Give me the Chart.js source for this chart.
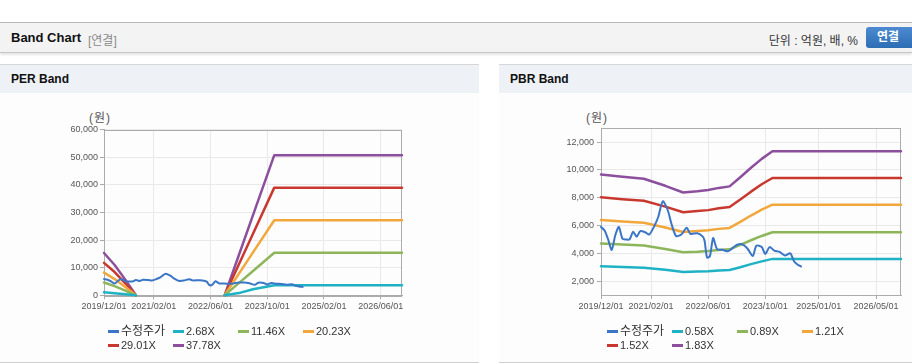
<!DOCTYPE html>
<html><head><meta charset="utf-8">
<script src="https://cdn.jsdelivr.net/npm/chart.js@4/dist/chart.umd.min.js"></script>
<style>
html,body{margin:0;padding:0;background:#fff;}
body{width:912px;height:364px;position:relative;overflow:hidden;font-family:"Liberation Sans",Arial,"Noto Sans CJK KR",sans-serif;}
.hdr{position:absolute;left:0;top:22px;width:912px;height:29px;background:#f3f3f3;border-top:1px solid #b9b9b9;border-bottom:1px solid #c6c6c6;box-shadow:0 2px 2px rgba(0,0,0,0.10);}
.hdr .t{position:absolute;left:11px;top:7px;font-size:13px;font-weight:bold;color:#111;}
.hdr .s{position:absolute;left:88px;top:8px;font-size:12px;color:#8a8a8a;}
.hdr .u{position:absolute;right:54px;top:8px;font-size:12px;color:#333;}
.hdr .btn{position:absolute;left:866px;top:4px;width:52px;height:21px;background:linear-gradient(#4c8bd1,#2d6db3);border-radius:3px;color:#fff;font-size:12px;font-weight:bold;line-height:21px;text-indent:11px;}
.panel{position:absolute;top:64px;height:297px;background:#fdfdfd;border-top:1px solid #d6d6d6;border-bottom:1px solid #d0d0d0;}
.ptitle{height:28px;background:#eef2f7;font-weight:bold;font-size:12px;padding-left:11px;line-height:29px;color:#111;}
.cw{position:absolute;}
.unit{position:absolute;font-size:12px;color:#555;transform:translateX(-50%);top:108px;letter-spacing:1px;}
.lg{position:absolute;font-size:11px;color:#333;white-space:nowrap;}
.lg span.d{position:absolute;left:0;top:50%;width:11px;height:3px;margin-top:-1px;}
.lg span.l{position:absolute;left:13px;top:-7px;line-height:14px;}
.lg span.kr{font-size:12px;}
</style>
</head><body>
<div class="hdr"><span class="t">Band Chart</span><span class="s">[연결]</span><span class="u">단위 : 억원, 배, %</span><span class="btn">연결</span></div>
<div class="panel" style="left:0;width:479px;"><div class="ptitle">PER Band</div></div>
<div class="panel" style="left:499px;width:413px;"><div class="ptitle">PBR Band</div></div>
<div class="unit" style="left:100px;">(원)</div>
<div class="unit" style="left:597px;">(원)</div>
<div class="cw" style="left:0;top:100px;"><canvas id="per" width="479" height="225"></canvas></div>
<div class="cw" style="left:499px;top:100px;"><canvas id="pbr" width="413" height="225"></canvas></div>
<div id="legends"></div>
<script>
// ---- data ----
const perTickLabels = ['2019/12/01','2021/02/01','2022/06/01','2023/10/01','2025/02/01','2026/06/01'];
const pbrTickLabels = ['2019/12/01','2021/02/01','2022/06/01','2023/10/01','2025/01/01','2026/05/01'];
const perYTicks = [0,10000,20000,30000,40000,50000,60000];
const pbrYTicks = [2000,4000,6000,8000,10000,12000];

const priceDates = ['2019/12/01','2020/01/01','2020/02/01','2020/03/01','2020/04/01','2020/05/01','2020/06/01','2020/07/01','2020/08/01','2020/09/01','2020/10/01','2020/11/01','2020/12/16','2021/01/16','2021/02/25','2021/04/01','2021/05/10','2021/06/22','2021/07/22','2021/09/01','2021/10/16','2021/12/01','2022/01/01','2022/03/01','2022/04/16','2022/05/01','2022/05/22','2022/06/16','2022/07/13','2022/08/16','2022/10/01','2022/11/16','2022/12/16','2023/02/01','2023/03/16','2023/05/01','2023/06/16','2023/07/16','2023/09/01','2023/10/01','2023/11/07','2023/12/16','2024/02/01','2024/03/16','2024/05/01','2024/06/01','2024/07/01','2024/08/01'];
const priceValues = [5900,5650,5000,4250,5300,5900,5050,5000,5000,5550,5200,5600,5500,5350,5900,6600,7750,7100,6150,5250,5350,5850,5400,5450,5200,4900,3700,3800,5100,4300,4250,4150,4300,4600,4650,4350,3800,4550,4450,3950,4450,4200,4100,3850,4000,3450,3200,3050];

const perNames = ['수정주가','2.68X','11.46X','20.23X','29.01X','37.78X'];
const perBandDates = ['2019/12/01','2020/03/01','2020/06/01','2020/09/01','2021/06/01','2022/10/01','2023/02/01','2023/06/01','2023/12/01','2026/12/01'];
const per268  = [1090, 780, 400, 0, null, 0,   800,  2200,  3650,  3650];
const per1146 = [4640, 3320, 1720, 0, null, 0,  4400,  8790, 15390, 15390];
const per2023 = [8190, 5870, 3030, 0, null, 0,  7770, 15520, 27170, 27170];
const per2901 = [11750, 8410, 4350, 0, null, 0, 11140, 22250, 38960, 38960];
const per3778 = [15300, 10960, 5670, 0, null, 0, 14500, 29000, 50700, 50700];

const pbrNames = ['수정주가','0.58X','0.89X','1.21X','1.52X','1.83X'];
const pbrBandDates = ['2019/12/01','2020/06/01','2020/12/01','2021/06/01','2021/11/01','2022/03/01','2022/06/01','2022/09/01','2022/12/01','2023/03/01','2023/06/01','2023/09/01','2023/12/01','2026/12/01'];
const pbr058 = [3070,3020,2970,2810,2660,2690,2710,2760,2800,3000,3220,3420,3600,3600];
const pbr089 = [4710,4630,4560,4310,4080,4120,4170,4240,4290,4610,4940,5250,5520,5520];
const pbr121 = [6400,6290,6200,5860,5540,5600,5660,5760,5830,6270,6720,7140,7500,7500];
const pbr152 = [8040,7900,7780,7360,6960,7040,7110,7240,7330,7870,8440,8970,9420,9420];
const pbr183 = [9680,9520,9370,8860,8380,8470,8560,8710,8820,9480,10160,10800,11350,11350];

const seriesColors = ['#3b76c6','#1fb2c5','#8db65b','#f2a73c','#c9382f','#8b4f9d'];

// ---- helpers ----
function months(s){const p=s.split('/').map(Number);return (p[0]-2019)*12+(p[1]-12)+((p[2]||1)-1)/30;}
function pts(dates, vals){return dates.map((d,i)=>({x:months(d),y:vals[i]}));}
const FONT = '"Liberation Sans", Arial, sans-serif';

const boxPlugin = {id:'box', beforeDatasetsDraw(chart){
  const {ctx, chartArea:a} = chart;
  ctx.save(); ctx.strokeStyle='#acacac'; ctx.lineWidth=1;
  ctx.strokeRect(Math.round(a.left)+0.5, Math.round(a.top)+0.5, Math.round(a.right-a.left)-1, Math.round(a.bottom-a.top));
  ctx.restore();
}};

function makeChart(id, cfg){
  const xTicks = cfg.xLabels.map(l=>months(l));
  const datasets = cfg.series.map((s,i)=>({
    label:cfg.names[i], data:s, borderColor:seriesColors[i], backgroundColor:seriesColors[i],
    borderWidth: i===0?2:2.5, pointRadius:0, tension: i===0?0.25:0, spanGaps:false, clip:false, fill:false,
    borderJoinStyle:'round', borderCapStyle:'round'
  }));
  return new Chart(document.getElementById(id), {
    type:'line',
    data:{datasets},
    options:{
      responsive:false, animation:false, devicePixelRatio:1,
      layout:{padding:{top:cfg.padTop, right:cfg.padRight, left:0, bottom:0}},
      plugins:{legend:{display:false}, tooltip:{enabled:false}},
      scales:{
        x:{type:'linear', min:0, max:months('2026/12/01'),
          afterBuildTicks:s=>{s.ticks = xTicks.map(v=>({value:v}));},
          afterFit:s=>{s.height=cfg.xH; s.paddingLeft=0; s.paddingRight=0;},
          ticks:{autoSkip:false, maxRotation:0, callback:(v,i)=>cfg.xLabels[i], font:{size:9, family:FONT}, color:'#555', padding:2},
          grid:{color:'#e9e9e9', tickColor:'#aaa', tickLength:4},
          border:{color:'#aaa'}
        },
        y:{type:'linear', min:cfg.yMin, max:cfg.yMax,
          afterBuildTicks:s=>{s.ticks = cfg.yTicks.map(v=>({value:v}));},
          afterFit:s=>{s.width=cfg.yW; s.paddingTop=0; s.paddingBottom=0;},
          ticks:{autoSkip:false, callback:v=>v.toLocaleString('en-US'), font:{size:9, family:FONT}, color:'#555', padding:cfg.yPad},
          grid:{color:'#e9e9e9', tickColor:'#aaa', tickLength:4},
          border:{color:'#aaa'}
        }
      }
    },
    plugins:[boxPlugin]
  });
}

makeChart('per', {
  names:perNames, xLabels:perTickLabels, yTicks:perYTicks, yMin:0, yMax:60000,
  padTop:29.5, padRight:77, yW:104, xH:29.7, yPad:2,
  series:[pts(priceDates,priceValues), pts(perBandDates,per268), pts(perBandDates,per1146), pts(perBandDates,per2023), pts(perBandDates,per2901), pts(perBandDates,per3778)]
});
makeChart('pbr', {
  names:pbrNames, xLabels:pbrTickLabels, yTicks:pbrYTicks, yMin:1000, yMax:13000,
  padTop:28.3, padRight:11, yW:102, xH:30, yPad:3,
  series:[pts(priceDates,priceValues), pts(pbrBandDates,pbr058), pts(pbrBandDates,pbr089), pts(pbrBandDates,pbr121), pts(pbrBandDates,pbr152), pts(pbrBandDates,pbr183)]
});

// ---- HTML legends ----
function legend(names, x0){
  const host = document.getElementById('legends');
  names.forEach((n,i)=>{
    const d = document.createElement('div');
    d.className='lg';
    d.style.left = (x0 + 65*(i%4))+'px';
    d.style.top = (331 + 13.5*Math.floor(i/4))+'px';
    const kr = /[\uAC00-\uD7A3]/.test(n) ? ' kr' : '';
    d.innerHTML = '<span class="d" style="background:'+seriesColors[i]+'"></span><span class="l'+kr+'">'+n+'</span>';
    host.appendChild(d);
  });
}
legend(perNames, 108);
legend(pbrNames, 607);
</script>
</body></html>
